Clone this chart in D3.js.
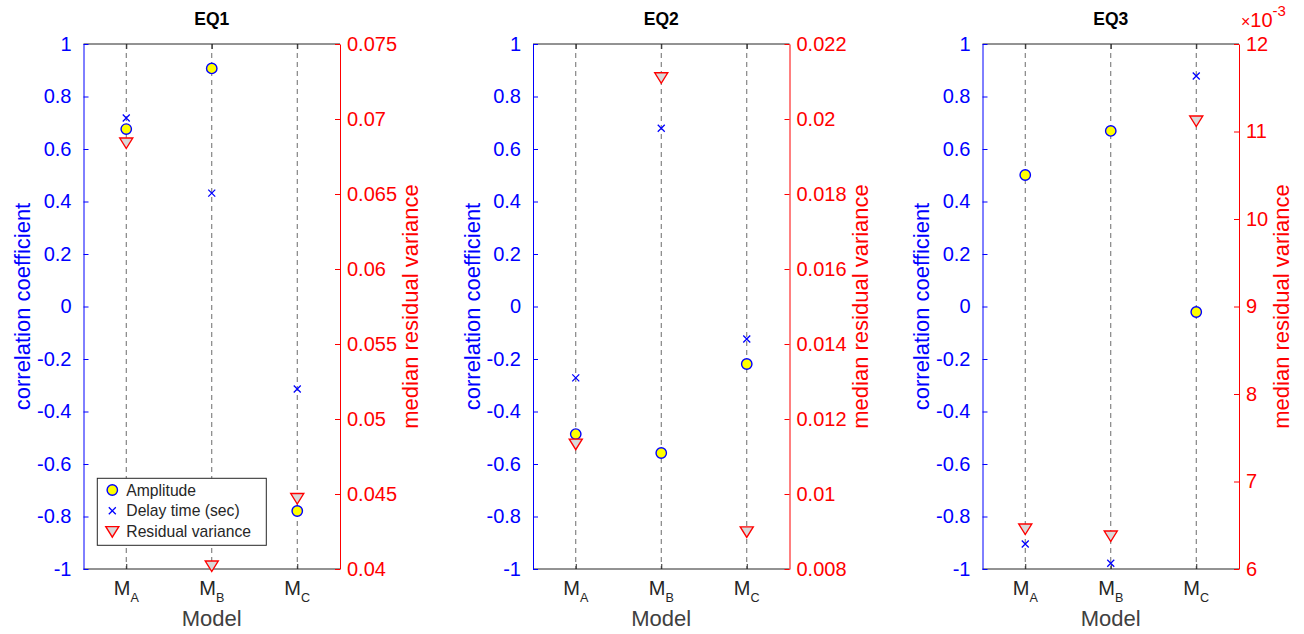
<!DOCTYPE html>
<html>
<head>
<meta charset="utf-8">
<script src="https://cdn.jsdelivr.net/npm/d3@7"></script>
<style>
  body { margin: 0; background: #fff; }
  text { font-family: "Liberation Sans", Arial, Helvetica, sans-serif; }
</style>
</head>
<body>
<div id="my_dataviz"></div>
<script>
// data
var eqNames = ["EQ1", "EQ2", "EQ3"];
var models = ["A", "B", "C"];
var amplitude = [
  [0.676, 0.907, -0.779],
  [-0.486, -0.558, -0.219],
  [0.501, 0.669, -0.021]
];
var delayTime = [
  [0.718, 0.432, -0.314],
  [-0.272, 0.679, -0.124],
  [-0.905, -0.978, 0.878]
];
var residualVar = [
  [0.0684, 0.0402, 0.0447],
  [0.01133, 0.0211, 0.00899],
  [0.006457, 0.006377, 0.01112]
];
var rightDomains = [[0.04, 0.075], [0.008, 0.022], [0.006, 0.012]];
var rightSteps = [0.005, 0.002, 0.001];
var rightScaleExp = [0, 0, -3];
var legendLabels = ["Amplitude", "Delay time (sec)", "Residual variance"];

// dimensions
var W = 1304, H = 634;
var top0 = 44, bottom0 = 569;
var panelW = 256.5, firstLeft = 83.5, stride = 449.5;
var fs = 20, lfs = 22;
var dark = "#262626";

var svg = d3.select("#my_dataviz")
  .append("svg")
  .attr("width", W)
  .attr("height", H);

var fmt = function(d) { return String(+d.toFixed(6)); };

eqNames.forEach(function(name, p) {
  var g = svg.append("g")
    .attr("transform", "translate(" + (firstLeft + p * stride) + "," + top0 + ")");
  var h = bottom0 - top0;

  var x = d3.scalePoint().domain(models).range([0, panelW]).padding(0.5);
  var yL = d3.scaleLinear().domain([-1, 1]).range([h, 0]);
  var yR = d3.scaleLinear().domain(rightDomains[p]).range([h, 0]);

  // dashed guide lines
  g.selectAll(".guide")
    .data(models)
    .enter()
    .append("line")
      .attr("x1", function(d) { return x(d); })
      .attr("x2", function(d) { return x(d); })
      .attr("y1", 0)
      .attr("y2", h)
      .style("stroke", "#6b6b6b")
      .style("stroke-width", 1)
      .style("stroke-dasharray", "5,4");

  // top / bottom box lines
  g.append("line").attr("x1", 0).attr("x2", panelW).attr("y1", 0).attr("y2", 0)
    .style("stroke", dark).style("stroke-width", 1);
  g.append("line").attr("x1", 0).attr("x2", panelW).attr("y1", h).attr("y2", h)
    .style("stroke", dark).style("stroke-width", 1);

  // bottom axis ticks
  var xAxis = g.append("g")
    .attr("transform", "translate(0," + h + ")")
    .call(d3.axisBottom(x).tickSize(-5).tickSizeOuter(0).tickFormat(""));
  xAxis.select(".domain").remove();
  xAxis.selectAll("line").style("stroke", dark);
  // top ticks
  var xTop = g.append("g")
    .call(d3.axisTop(x).tickSize(-5).tickSizeOuter(0).tickFormat(""));
  xTop.select(".domain").remove();
  xTop.selectAll("line").style("stroke", dark);

  // M with subscript labels
  var lab = g.selectAll(".mlab")
    .data(models)
    .enter()
    .append("text")
      .attr("x", function(d) { return x(d); })
      .attr("y", h + 26)
      .attr("text-anchor", "middle")
      .style("font-size", fs + "px")
      .style("fill", dark);
  lab.append("tspan").text("M");
  lab.append("tspan")
    .attr("dy", 7)
    .style("font-size", "12.6px")
    .text(function(d) { return d; });

  g.append("text")
    .attr("x", panelW / 2)
    .attr("y", h + 57)
    .attr("text-anchor", "middle")
    .style("font-size", lfs + "px")
    .style("fill", "#404040")
    .text("Model");

  // title
  g.append("text")
    .attr("x", panelW / 2)
    .attr("y", -19)
    .attr("text-anchor", "middle")
    .style("font-size", "17.5px")
    .style("font-weight", "bold")
    .style("fill", "#000")
    .text(name);

  // left axis
  var yLeft = g.append("g")
    .call(d3.axisLeft(yL).tickValues(d3.range(-5, 6).map(function(i) { return i / 5; }))
      .tickSize(-5).tickSizeOuter(0).tickPadding(12).tickFormat(fmt));
  yLeft.selectAll("line").style("stroke", "#0000ff");
  yLeft.select(".domain").style("stroke", "#0000ff");
  yLeft.selectAll("text").style("font-size", fs + "px").style("fill", "#0000ff")
    .style("font-family", "'Liberation Sans', Arial, sans-serif");
  var lb = yLeft.node().getBBox();
  g.append("text")
    .attr("transform", "translate(" + (lb.x - 7) + "," + (h / 2) + ") rotate(-90)")
    .attr("text-anchor", "middle")
    .style("font-size", lfs + "px")
    .style("fill", "#0000ff")
    .text("correlation coefficient");

  // right axis
  var dom = rightDomains[p], st = rightSteps[p];
  var n = Math.round((dom[1] - dom[0]) / st);
  var rt = d3.range(0, n + 1).map(function(i) { return dom[0] + i * st; });
  var mult = Math.pow(10, -rightScaleExp[p]);
  var yRight = g.append("g")
    .attr("transform", "translate(" + panelW + ",0)")
    .call(d3.axisRight(yR).tickValues(rt).tickSize(-5).tickSizeOuter(0).tickPadding(7)
      .tickFormat(function(d) { return fmt(d * mult); }));
  yRight.selectAll("line").style("stroke", "#ff0000");
  yRight.select(".domain").style("stroke", "#ff0000");
  yRight.selectAll("text").style("font-size", fs + "px").style("fill", "#ff0000")
    .style("font-family", "'Liberation Sans', Arial, sans-serif");
  var rb = yRight.node().getBBox();
  g.append("text")
    .attr("transform", "translate(" + (panelW + rb.x + rb.width + 21) + "," + (h / 2) + ") rotate(-90)")
    .attr("text-anchor", "middle")
    .style("font-size", lfs + "px")
    .style("fill", "#ff0000")
    .text("median residual variance");

  if (rightScaleExp[p] !== 0) {
    var ex = g.append("text")
      .attr("x", panelW + 2)
      .attr("y", -17)
      .style("font-size", fs + "px")
      .style("fill", "#ff0000");
    ex.append("tspan").style("font-size", "16px").text("\u00d7");
    ex.append("tspan").text("10");
    ex.append("tspan").attr("dy", -11).style("font-size", "15px")
      .text(String(rightScaleExp[p]));
  }

  // markers: amplitude circles
  g.selectAll(".amp")
    .data(amplitude[p])
    .enter()
    .append("circle")
      .attr("cx", function(d, i) { return x(models[i]); })
      .attr("cy", function(d) { return yL(d); })
      .attr("r", 5.2)
      .style("fill", "#ffff00")
      .style("stroke", "#0000ff")
      .style("stroke-width", 1.4);

  // delay time crosses
  g.selectAll(".dly")
    .data(delayTime[p])
    .enter()
    .append("path")
      .attr("transform", function(d, i) { return "translate(" + x(models[i]) + "," + yL(d) + ")"; })
      .attr("d", "M-3.5,-3.5L3.5,3.5M-3.5,3.5L3.5,-3.5")
      .style("fill", "none")
      .style("stroke", "#0000ff")
      .style("stroke-width", 1.3);

  // residual variance triangles
  g.selectAll(".res")
    .data(residualVar[p])
    .enter()
    .append("path")
      .attr("transform", function(d, i) { return "translate(" + x(models[i]) + "," + yR(d) + ")"; })
      .attr("d", "M-6.5,-5L6.5,-5L0,5.5Z")
      .style("fill", "#d9d9d9")
      .style("stroke", "#ff0000")
      .style("stroke-width", 1.4);

  // legend in first panel
  if (p === 0) {
    var lg = g.append("g").attr("transform", "translate(13.8," + (h - 90.7) + ")");
    lg.append("rect")
      .attr("width", 169)
      .attr("height", 67)
      .style("fill", "#fff")
      .style("stroke", dark)
      .style("stroke-width", 1);
    var rows = lg.selectAll(".row")
      .data(legendLabels)
      .enter()
      .append("g")
        .attr("transform", function(d, i) { return "translate(15," + (11.7 + i * 20.8) + ")"; });
    rows.append("text")
      .attr("x", 14)
      .attr("y", 5.5)
      .style("font-size", "15.7px")
      .style("fill", dark)
      .text(function(d) { return d; });
    rows.filter(function(d, i) { return i === 0; })
      .append("circle").attr("r", 5.2)
      .style("fill", "#ffff00").style("stroke", "#0000ff").style("stroke-width", 1.4);
    rows.filter(function(d, i) { return i === 1; })
      .append("path").attr("d", "M-3.5,-3.5L3.5,3.5M-3.5,3.5L3.5,-3.5")
      .style("fill", "none").style("stroke", "#0000ff").style("stroke-width", 1.3);
    rows.filter(function(d, i) { return i === 2; })
      .append("path").attr("d", "M-6.5,-5L6.5,-5L0,5.5Z")
      .style("fill", "#d9d9d9").style("stroke", "#ff0000").style("stroke-width", 1.4);
  }
});
</script>
</body>
</html>
